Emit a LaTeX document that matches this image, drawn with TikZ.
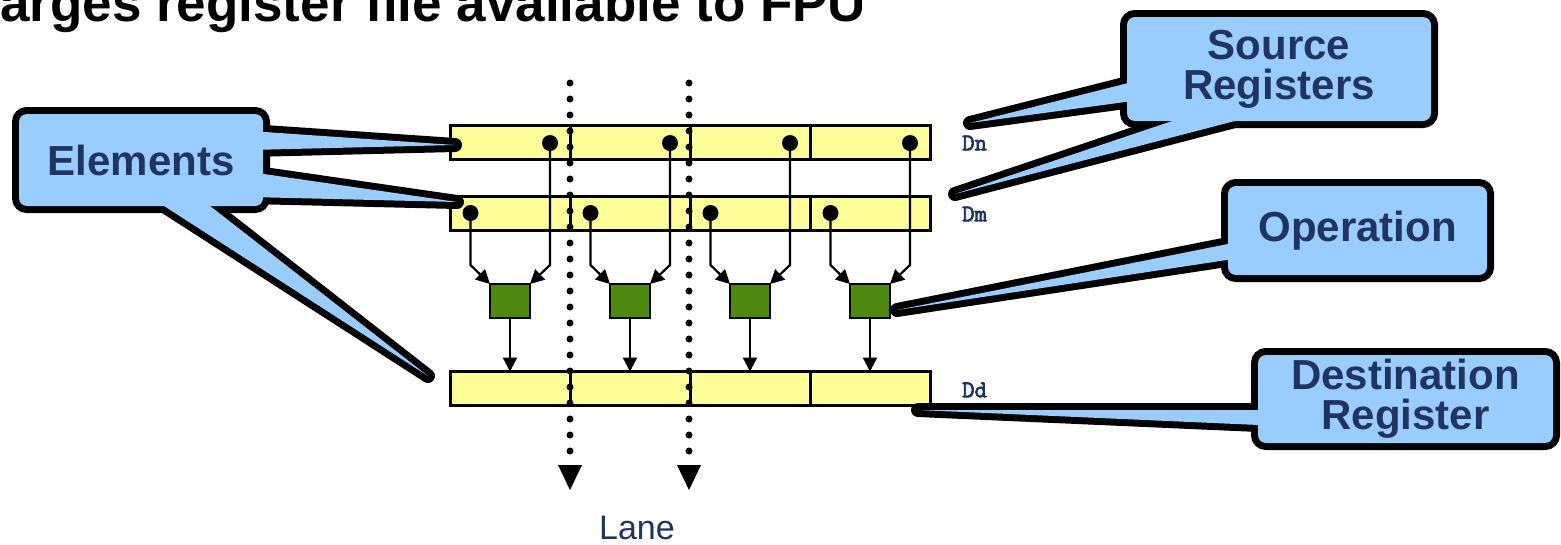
\documentclass[tikz,border=0pt]{standalone}
\usepackage{fontspec}
\setmainfont{Liberation Sans}
\setmonofont{Latin Modern Mono}[BoldFont={Latin Modern Mono}, BoldFeatures={FakeBold=3}]
\usetikzlibrary{arrows.meta,calc}
\definecolor{regyellow}{HTML}{FFFF99}
\definecolor{opgreen}{HTML}{4F8A10}
\definecolor{callblue}{HTML}{99CCFF}
\definecolor{navy}{HTML}{1F3461}
\pgfdeclarelayer{diag}
\pgfdeclarelayer{cstroke}
\pgfsetlayers{diag,cstroke,main}
\begin{document}
\begin{tikzpicture}[x=1pt,y=-1pt,
  reg/.style={draw=black, line width=3pt, fill=regyellow, minimum width=480pt, minimum height=34pt, inner sep=0pt, outer sep=0pt},
  cellline/.style={draw=black, line width=3pt},
  opbox/.style={draw=black, line width=2pt, fill=opgreen, minimum width=40pt, minimum height=34pt, inner sep=0pt, outer sep=0pt},
  pin/.style={circle, fill=black, minimum size=16pt, inner sep=0pt, outer sep=0pt},
  conn/.style={line width=2.2pt, -{Triangle[length=14pt,width=14pt]}},
  lanedots/.style={line width=7pt, dash pattern=on 0pt off 16pt, line cap=round},
  lanetip/.style={fill=black},
  regname/.style={anchor=west, inner sep=0pt, text=navy, font=\ttfamily\bfseries\fontsize{24}{24}\selectfont},
  callout/.style={fill=callblue, rounded corners=8pt, inner sep=0pt, outer sep=0pt, text=navy, align=center, font=\bfseries\fontsize{42}{40}\selectfont},
  boxline/.style={draw=black, line width=14pt, rounded corners=8pt},
  wedgeline/.style={draw=black, line width=14pt, line join=round},
  wedgefill/.style={fill=callblue},
  titletext/.style={anchor=base west, inner sep=0pt, font=\bfseries\fontsize{53}{53}\selectfont},
  lanelabel/.style={inner sep=0pt, text=navy, font=\fontsize{34}{34}\selectfont}
]
\useasboundingbox (0,0) rectangle (1561,544);
\clip (0,0) rectangle (1561,544);

\begin{pgfonlayer}{diag}
  \node[titletext] (title) at (0,21) {arges register file available to FPU};

  % registers
  \node[reg] (dn) at (690,142.5) {};
  \node[reg] (dm) at (690,213.5) {};
  \node[reg] (dd) at (690,388.5) {};
  \foreach \r in {dn,dm,dd} {
    \foreach \i in {1,2,3} {
      \draw[cellline] ([xshift=120*\i pt]\r.north west) -- ([xshift=120*\i pt]\r.south west);
    }
  }
  \node[regname] (dnlabel) at (962,143) {Dn};
  \node[regname] (dmlabel) at (962,214) {Dm};
  \node[regname] (ddlabel) at (962,390) {Dd};

  % lanes of operations
  \foreach \k in {0,1,2,3} {
    \node[opbox] (op\k) at (510+120*\k,301) {};
    \coordinate (n\k) at (550+120*\k,143);
    \coordinate (m\k) at (470.5+120*\k,213);
    \draw[conn] (n\k) -- ++(0,122) -- (op\k.north east);
    \draw[conn] (m\k) -- ++(0,52) -- (op\k.north west);
    \draw[conn] (op\k.south) -- (op\k.south |- dd.north);
    \node[pin] (pn\k) at (n\k) {};
    \node[pin] (pm\k) at (m\k) {};
  }

  % lane markers
  \coordinate (laneAtop) at (570,83);
  \coordinate (laneAend) at (570,490);
  \coordinate (laneBtop) at (689,83);
  \coordinate (laneBend) at (689,490);
  \draw[lanedots] (laneAtop) -- ($(laneAend)+(0,-38)$);
  \draw[lanedots] (laneBtop) -- ($(laneBend)+(0,-38)$);
  \fill[lanetip] (laneAend) -- ++(-12,-25) -- ++(24,0) -- cycle;
  \fill[lanetip] (laneBend) -- ++(-12,-25) -- ++(24,0) -- cycle;
  \node[lanelabel] (lane) at (637,528) {Lane};
\end{pgfonlayer}

% callouts
\node[callout, minimum width=244pt, minimum height=92pt] (elements) at (141,160) {Elements};
\node[callout, minimum width=304pt, minimum height=104pt] (source) at (1279,69) {Source\\Registers};
\node[callout, minimum width=259pt, minimum height=89pt] (operation) at (1357.5,230.5) {Operation};
\node[callout, minimum width=295pt, minimum height=88pt] (dest) at (1405.5,399) {Destination\\Register};

\coordinate (elTipA) at (455,145);
\coordinate (elTipB) at (457,202);
\coordinate (elTipC) at (428,376);
\coordinate (srcTipA) at (970,123);
\coordinate (srcTipB) at (955,194);
\coordinate (opTip) at (897,310);
\coordinate (dstTip) at (918,410);

\begin{pgfonlayer}{cstroke}
  \foreach \c in {elements,source,operation,dest} {
    \draw[boxline] (\c.south west) rectangle (\c.north east);
  }
  \draw[wedgeline] (elTipA) -- (250,131) -- (250,150) -- cycle;
  \draw[wedgeline] (elTipB) -- (250,172) -- (250,197) -- cycle;
  \draw[wedgeline] (elTipC) -- (147,195) -- (196,195) -- cycle;
  \draw[wedgeline] (srcTipA) -- (1140,80) -- (1140,100) -- cycle;
  \draw[wedgeline] (srcTipB) -- (1205,110) -- (1277,110) -- cycle;
  \draw[wedgeline] (opTip) -- (1240,241.6) -- (1240,258) -- cycle;
  \draw[wedgeline] (dstTip) -- (1270,410) -- (1270,425.5) -- cycle;
\end{pgfonlayer}

\fill[wedgefill] (elTipA) -- (250,131) -- (250,150) -- cycle;
\fill[wedgefill] (elTipB) -- (250,172) -- (250,197) -- cycle;
\fill[wedgefill] (elTipC) -- (147,195) -- (196,195) -- cycle;
\fill[wedgefill] (srcTipA) -- (1140,80) -- (1140,100) -- cycle;
\fill[wedgefill] (srcTipB) -- (1205,110) -- (1277,110) -- cycle;
\fill[wedgefill] (opTip) -- (1240,241.6) -- (1240,258) -- cycle;
\fill[wedgefill] (dstTip) -- (1270,410) -- (1270,425.5) -- cycle;
\end{tikzpicture}
\end{document}
